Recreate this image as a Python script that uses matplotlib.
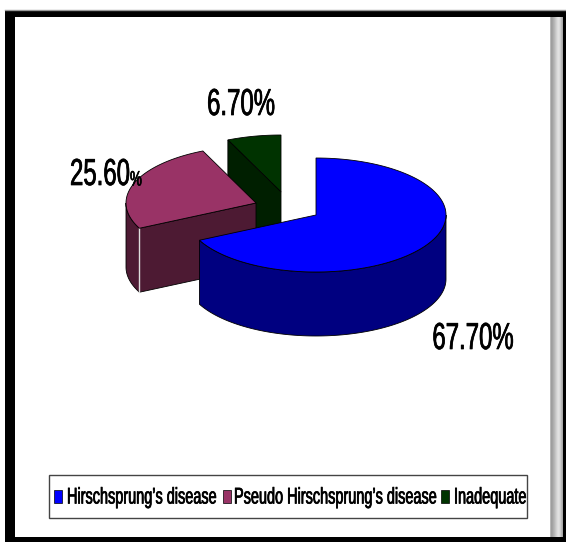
import numpy as np
from fontTools.ttLib import TTFont
from matplotlib import font_manager, patheffects
from matplotlib import pyplot as plt
from matplotlib.patches import Polygon, Rectangle

categories = ["Hirschsprung\u2019s disease", "Pseudo Hirschsprung\u2019s disease", "Inadequate"]
values = [67.7, 25.6, 6.7]
labels = ["67.70%", "25.60", "6.70%"]
topColors = ["#0000ff", "#993366", "#003300"]
sideColors = ["#000080", "#4d1a33", "#001f00"]
wedgeCenters = [(316, 215), (256, 203), (281, 192)]

RX = 130
RY = 57
DEPTH = 64
FONT = "Squeezed Sans"


def makeNarrowFont(scale):
    # в системе нет узкого шрифта, поэтому сжимаем Liberation Sans по ширине
    font = TTFont(font_manager.findfont("Liberation Sans"))
    glyf = font["glyf"]
    for name in font.getGlyphOrder():
        g = glyf[name]
        if g.isComposite():
            for comp in g.components:
                comp.x = int(comp.x * scale)
        elif g.numberOfContours > 0:
            g.coordinates.scale((scale, 1))
            g.coordinates.toInt()
        g.recalcBounds(glyf)
        adv, lsb = font["hmtx"][name]
        font["hmtx"][name] = (int(adv * scale), int(lsb * scale))
    for tag in ("fpgm", "prep", "cvt ", "hdmx", "VDMX", "LTSH", "kern", "GPOS"):
        if tag in font:
            del font[tag]
    for rec in font["name"].names:
        if rec.nameID in (1, 4, 16):
            font["name"].setName(FONT, rec.nameID, rec.platformID, rec.platEncID, rec.langID)
    font.save("narrow.ttf")
    font_manager.fontManager.addfont("narrow.ttf")


makeNarrowFont(0.64)
plt.rcParams["font.family"] = [FONT, "Liberation Sans", "DejaVu Sans"]

fig = plt.figure(figsize=(5.66, 5.42), dpi=100)
ax = fig.add_axes([0, 0, 1, 1])
ax.set_xlim(0, 566)
ax.set_ylim(542, 0)
ax.axis("off")


def rim(center, a1, a2):
    t = np.radians(np.linspace(a1, a2, 120))
    return np.column_stack([center[0] + RX * np.cos(t), center[1] - RY * np.sin(t)])


# углы секторов: от 12 часов по часовой стрелке
angles = 90 - np.cumsum([0] + values) * 3.6

# рамка и серая полоса справа
ax.add_patch(Rectangle((5, 10), 561, 7, color="black", lw=0))
ax.add_patch(Rectangle((5, 10), 10, 532, color="black", lw=0))
ax.add_patch(Rectangle((5, 537), 561, 5, color="black", lw=0))
ax.add_patch(Rectangle((563, 10), 3, 532, color="black", lw=0))
ax.plot([5, 566], [9.5, 9.5], color="#999999", lw=1)
strip = np.array([[0.72, 0.62, 0.64, 0.68, 0.72, 0.77, 0.82, 0.86, 0.88, 0.86, 0.8, 0.72, 0.66]])
ax.imshow(strip, extent=(550, 563, 537, 17), cmap="gray", vmin=0, vmax=1, aspect="auto", zorder=1)
ax.set_xlim(0, 566)
ax.set_ylim(542, 0)

# зелёный сектор
c = wedgeCenters[2]
edge = rim(c, angles[2], angles[3])
ax.add_patch(Polygon(np.vstack([[c], edge]), fc=topColors[2], ec="black", lw=0.6, zorder=2))
p = rim(c, angles[2], angles[2])[0]
ax.add_patch(Polygon([p, c, (c[0], c[1] + DEPTH), (p[0], p[1] + DEPTH)], fc=sideColors[2], ec="black", lw=0.6, zorder=2))

# малиновый сектор
c = wedgeCenters[1]
edge = rim(c, angles[1], angles[2])
wall = rim(c, angles[1], -180)
ax.add_patch(Polygon(np.vstack([wall, wall[::-1] + [0, DEPTH]]), fc=sideColors[1], ec="black", lw=0.6, zorder=3))
p = wall[0]
ax.add_patch(Polygon([c, p, p + [0, DEPTH], (c[0], c[1] + DEPTH)], fc=sideColors[1], ec="black", lw=0.6, zorder=3))
ax.plot([p[0], p[0]], [p[1], p[1] + DEPTH], color="#dddddd", lw=1, zorder=3)
ax.add_patch(Polygon(np.vstack([[c], edge]), fc=topColors[1], ec="black", lw=0.6, zorder=3))

# синий сектор
c = wedgeCenters[0]
edge = rim(c, angles[0], angles[1])
wall = rim(c, 0, angles[1])
ax.add_patch(Polygon(np.vstack([wall, wall[::-1] + [0, DEPTH]]), fc=sideColors[0], ec="black", lw=0.6, zorder=4))
ax.add_patch(Polygon(np.vstack([[c], edge]), fc=topColors[0], ec="black", lw=0.6, zorder=4))

# подписи
thick = [patheffects.withStroke(linewidth=0.5, foreground="black")]
ax.text(473, 339, labels[0], fontsize=27, ha="center", va="center", zorder=5, path_effects=thick)
ax.text(70, 175, labels[1], fontsize=27, ha="left", va="center", zorder=5, path_effects=thick)
ax.text(130, 180, "%", fontsize=15, ha="left", va="center", zorder=5, path_effects=thick)
ax.text(241, 105, labels[2], fontsize=27, ha="center", va="center", zorder=5, path_effects=thick)

# легенда
ax.add_patch(Rectangle((48.5, 474.5), 478, 43, fc="white", ec="#444444", lw=1, zorder=5))
swatchX = [54, 223, 441]
textX = [67, 234, 454]
for i in range(3):
    ax.add_patch(Rectangle((swatchX[i], 490), 8, 13, fc=topColors[i], ec="black", lw=0.5, zorder=6))
    ax.text(textX[i], 497, categories[i], fontsize=16.3, ha="left", va="center", zorder=6, path_effects=thick)

plt.savefig("out.png", dpi=100)
